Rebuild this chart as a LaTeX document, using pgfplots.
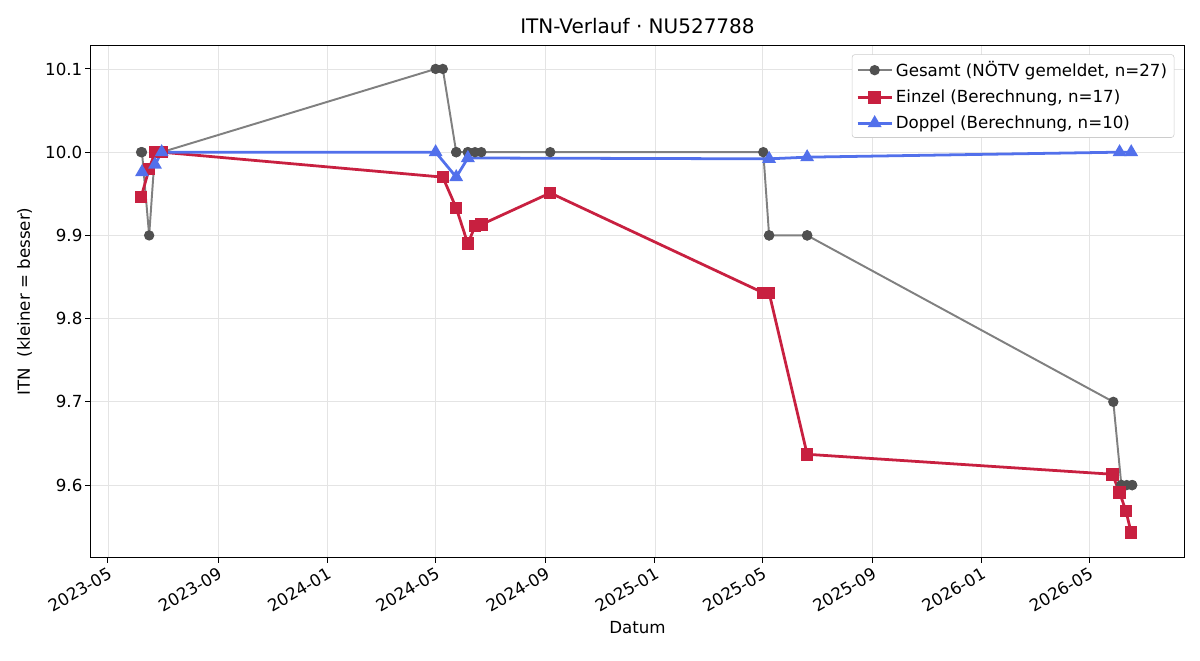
\documentclass[border=0pt]{standalone}
\usepackage{pgfplots}
\pgfplotsset{compat=1.18}
\usepackage{fontspec}
\setmainfont{DejaVu Sans}
\definecolor{grayline}{RGB}{128,128,128}
\definecolor{graymark}{RGB}{80,80,80}
\definecolor{redc}{RGB}{200,32,64}
\definecolor{bluec}{RGB}{82,112,235}
\definecolor{gridc}{RGB}{228,228,228}
\definecolor{legc}{RGB}{204,204,204}
\begin{document}
\begin{tikzpicture}
\path[use as bounding box] (-65.5pt,-74.2pt) rectangle (798.5pt,401.1pt);
\begin{axis}[
  at={(0,0)}, anchor=south west,
  scale only axis, width=787pt, height=368pt,
  xmin=-19, xmax=1202, ymin=9.5135, ymax=10.1276,
  xtick={0,123,245,366,489,611,731,854,976,1096},
  xticklabels={2023-05,2023-09,2024-01,2024-05,2024-09,2025-01,2025-05,2025-09,2026-01,2026-05},
  ytick={9.6,9.7,9.8,9.9,10.0,10.1},
  yticklabels={9.6,9.7,9.8,9.9,10.0,10.1},
  grid=major, major grid style={gridc, line width=0.6pt},
  tick align=outside, tick pos=left, major tick length=4pt,
  tick style={black, line width=0.7pt},
  axis line style={line width=0.7pt},
  ticklabel style={font=\fontsize{12}{14}\selectfont},
  xticklabel style={rotate=30, anchor=north east, inner sep=2pt},
  yticklabel style={inner sep=2pt},
  xlabel={Datum}, ylabel={ITN\ \ (kleiner = besser)},
  label style={font=\fontsize{12}{14}\selectfont},
  ylabel style={yshift=4pt},
  title={ITN-Verlauf · NU527788},
  title style={font=\fontsize{14.4}{17}\selectfont, yshift=-1pt},
  legend style={at={(1,1)}, anchor=north east, xshift=-7pt, yshift=-6pt,
    draw=legc, rounded corners=2pt, font=\fontsize{12}{14}\selectfont,
    row sep=4pt, inner sep=3pt},
  legend cell align=left,
  legend image code/.code={\draw[mark repeat=2,mark phase=2] plot coordinates {(0cm,0cm) (0.43cm,0cm) (0.86cm,0cm)};},
]
\addplot[grayline, line width=1.4pt, mark=*, mark size=3pt,
  mark options={draw=graymark, fill=graymark}] coordinates {
(37,10.0) (38,10.0) (46,9.9) (52.5,10.0) (52.5,10.0) (60,10.0) (60,10.0)
(366,10.1) (374,10.1) (389,10.0) (389,10.0) (402,10.0) (402,10.0) (410,10.0) (417,10.0) (494,10.0)
(732,10.0) (738.5,9.9) (738.5,9.9) (781,9.9) (781,9.9)
(1123,9.7) (1132,9.6) (1132,9.6) (1138,9.6) (1144,9.6) (1144,9.6)
};
\addlegendentry{Gesamt (NÖTV gemeldet, n=27)}
\addplot[redc, line width=2pt, mark=square*, mark size=3.5pt,
  mark options={fill=redc}] coordinates {
(37,9.946) (46,9.980) (52.5,10.0) (60,10.0)
(374,9.970) (389,9.933) (402,9.890) (410,9.911) (417,9.913) (494,9.951)
(732,9.831) (738.5,9.831) (781,9.637)
(1122,9.613) (1130,9.591) (1137,9.569) (1143,9.543)
};
\addlegendentry{Einzel (Berechnung, n=17)}
\addplot[bluec, line width=2pt, mark=triangle*, mark size=3.8pt,
  mark options={fill=bluec}] coordinates {
(38,9.976) (52.5,9.985) (60,10.0) (366,10.0) (389,9.970) (402,9.993)
(738.5,9.992) (781,9.994) (1130,10.0) (1143,10.0)
};
\addlegendentry{Doppel (Berechnung, n=10)}
\end{axis}
\end{tikzpicture}
\end{document}
